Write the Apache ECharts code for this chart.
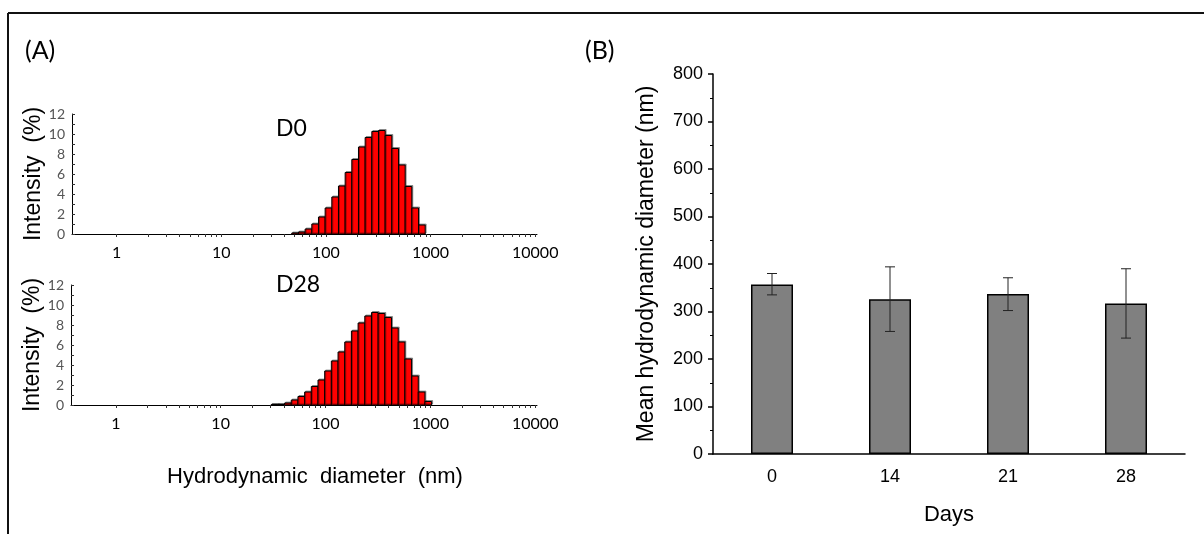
<!DOCTYPE html>
<html>
<head>
<meta charset="utf-8">
<script src="https://cdn.jsdelivr.net/npm/echarts@6/dist/echarts.min.js"></script>
<style>
html,body{margin:0;padding:0;background:#fff;}
#chart{width:1204px;height:534px;}
</style>
</head>
<body>
<div id="chart"></div>
<script>
// ---- Panel A data (size class in nm, intensity %) ----
const sizesD0 = [50.75, 58.77, 68.06, 78.82, 91.28, 105.7, 122.4, 141.8, 164.2, 190.1, 220.2, 255, 295.3, 342, 396.1, 458.7, 531.2, 615.1, 712.4, 825];
const intensityD0 = [0.1, 0.2, 0.5, 1.0, 1.7, 2.6, 3.7, 4.8, 6.15, 7.45, 8.7, 9.65, 10.25, 10.35, 9.85, 8.55, 6.9, 4.75, 2.6, 0.9];
const sizesD28 = [32.67, 37.84, 43.82, 50.75, 58.77, 68.06, 78.82, 91.28, 105.7, 122.4, 141.8, 164.2, 190.1, 220.2, 255, 295.3, 342, 396.1, 458.7, 531.2, 615.1, 712.4, 825, 955.4];
const intensityD28 = [0.05, 0.05, 0.2, 0.5, 0.85, 1.3, 1.85, 2.5, 3.4, 4.4, 5.3, 6.3, 7.4, 8.2, 8.9, 9.25, 9.15, 8.75, 7.7, 6.3, 4.6, 2.9, 1.3, 0.35];
const sizeTickLabels = [1, 10, 100, 1000, 10000];
const panelTitles = ['D0', 'D28'];

// ---- Panel B data ----
const days = ['0', '14', '21', '28'];
const meanDiameter = [357, 326, 337, 317];
const errLow = [335, 258, 302, 244];
const errHigh = [380, 394, 371, 390];

// ---- helpers ----
function histData(sizes, vals) {
  const lx = sizes.map(s => Math.log10(s));
  return lx.map((x, i) => {
    let hw;
    if (i === 0) hw = (lx[1] - lx[0]) / 2;
    else if (i === lx.length - 1) hw = (lx[i] - lx[i - 1]) / 2;
    else hw = (lx[i + 1] - lx[i - 1]) / 4;
    return [x, vals[i], hw];
  });
}
function histRender(params, api) {
  const x = api.value(0), y = api.value(1), hw = api.value(2);
  const tl = api.coord([x - hw, y]);
  const br = api.coord([x + hw, 0]);
  return {
    type: 'rect',
    shape: { x: tl[0], y: tl[1], width: br[0] - tl[0], height: br[1] - tl[1] },
    style: { fill: '#ff0000', stroke: '#000000', lineWidth: 1, shadowColor: 'rgba(0,0,0,0.35)', shadowOffsetX: 1, shadowOffsetY: -1, shadowBlur: 0 }
  };
}
function errRender(params, api) {
  const i = api.value(0);
  const lo = api.coord([i, api.value(1)]);
  const hi = api.coord([i, api.value(2)]);
  const c = 5;
  const st = { stroke: '#222', lineWidth: 1 };
  return {
    type: 'group',
    children: [
      { type: 'line', shape: { x1: lo[0], y1: lo[1], x2: hi[0], y2: hi[1] }, style: st },
      { type: 'line', shape: { x1: lo[0] - c, y1: lo[1], x2: lo[0] + c, y2: lo[1] }, style: st },
      { type: 'line', shape: { x1: hi[0] - c, y1: hi[1], x2: hi[0] + c, y2: hi[1] }, style: st }
    ]
  };
}
const logLabelVals = sizeTickLabels.map(v => Math.log10(v));
const logTickVals = [];
for (let n = 0; n < 4; n++) for (let k = 1; k <= 9; k++) logTickVals.push(Math.log10(k * Math.pow(10, n)));
logTickVals.push(4);

const calibri = 'Lato, "Noto Sans", sans-serif';
const arial = '"Liberation Sans", Arial, sans-serif';

function histX(gi) {
  return {
    type: 'value', gridIndex: gi, min: -0.427, max: 4.017,
    axisLine: { show: true, onZero: false, lineStyle: { color: '#000', width: 1 } },
    axisTick: { show: true, length: 3, customValues: logTickVals, lineStyle: { color: '#333' } },
    axisLabel: { customValues: logLabelVals, formatter: v => String(Math.round(Math.pow(10, v))), color: '#000', fontSize: 16, fontFamily: calibri, margin: 11 },
    splitLine: { show: false }
  };
}
function histY(gi) {
  return {
    type: 'value', gridIndex: gi, min: 0, max: 12, interval: 1,
    name: 'Intensity  (%)', nameLocation: 'middle', nameGap: 25, nameRotate: 90,
    nameTextStyle: { fontSize: 23, fontFamily: arial, color: '#000' },
    axisLine: { show: true, onZero: false, lineStyle: { color: '#000', width: 1 } },
    axisTick: { show: true, inside: true, length: 3, lineStyle: { color: '#333' } },
    axisLabel: { formatter: v => (v % 2 === 0 ? String(v) : ''), color: '#555', fontSize: 14, fontFamily: calibri, margin: 7 },
    splitLine: { show: false }
  };
}

const chart = echarts.init(document.getElementById('chart'), null, { renderer: 'canvas' });
chart.setOption({
  animation: false,
  backgroundColor: '#ffffff',
  title: [
    { text: '(A)', left: 25, top: 38, padding: 0, textStyle: { fontSize: 25, fontWeight: 'normal', fontFamily: calibri, color: '#000' } },
    { text: '(B)', left: 585, top: 38, padding: 0, textStyle: { fontSize: 25, fontWeight: 'normal', fontFamily: calibri, color: '#000' } },
    { text: panelTitles[0], left: 276, top: 117, padding: 0, textStyle: { fontSize: 23, fontWeight: 'normal', fontFamily: calibri, color: '#000' } },
    { text: panelTitles[1], left: 276, top: 273, padding: 0, textStyle: { fontSize: 23, fontWeight: 'normal', fontFamily: calibri, color: '#000' } }
  ],
  graphic: [
    { type: 'line', shape: { x1: 8, y1: 13, x2: 1204, y2: 13 }, style: { stroke: '#111', lineWidth: 2 } },
    { type: 'line', shape: { x1: 8, y1: 13, x2: 8, y2: 534 }, style: { stroke: '#111', lineWidth: 2 } },
    { type: 'text', x: 315, y: 477, style: { text: 'Hydrodynamic  diameter  (nm)', fontSize: 22, fontFamily: arial, fill: '#000', align: 'center', verticalAlign: 'middle' } }
  ],
  grid: [
    { left: 72, top: 114, width: 465, height: 120 },
    { left: 71, top: 285, width: 466, height: 120 },
    { left: 713, top: 74, width: 472, height: 380 }
  ],
  xAxis: [
    histX(0),
    histX(1),
    {
      type: 'category', gridIndex: 2, data: days,
      name: 'Days', nameLocation: 'middle', nameGap: 50,
      nameTextStyle: { fontSize: 22, fontFamily: arial, color: '#000' },
      axisLine: { lineStyle: { color: '#000', width: 1.5 } },
      axisTick: { alignWithLabel: true, length: 5, lineStyle: { color: '#000', width: 1.5 } },
      axisLabel: { fontSize: 18, fontFamily: arial, color: '#000', margin: 14 }
    }
  ],
  yAxis: [
    histY(0),
    histY(1),
    {
      type: 'value', gridIndex: 2, min: 0, max: 800, interval: 100,
      name: 'Mean hydrodynamic diameter (nm)', nameLocation: 'middle', nameGap: 55, nameRotate: 90,
      nameTextStyle: { fontSize: 23, fontFamily: arial, color: '#000' },
      axisLine: { show: true, lineStyle: { color: '#000', width: 1.5 } },
      axisTick: { show: true, length: 5, lineStyle: { color: '#000', width: 1.5 } },
      minorTick: { show: true, splitNumber: 2, length: 3, lineStyle: { color: '#000', width: 1 } },
      axisLabel: { fontSize: 18, fontFamily: arial, color: '#000', margin: 10 },
      splitLine: { show: false }
    }
  ],
  series: [
    { type: 'custom', xAxisIndex: 0, yAxisIndex: 0, data: histData(sizesD0, intensityD0), renderItem: histRender, encode: { x: 0, y: 1 } },
    { type: 'custom', xAxisIndex: 1, yAxisIndex: 1, data: histData(sizesD28, intensityD28), renderItem: histRender, encode: { x: 0, y: 1 } },
    {
      type: 'bar', xAxisIndex: 2, yAxisIndex: 2, data: meanDiameter, barWidth: 42,
      itemStyle: { color: '#808080', borderColor: '#000', borderWidth: 1.5 }
    },
    {
      type: 'custom', xAxisIndex: 2, yAxisIndex: 2, z: 5,
      data: days.map((d, i) => [i, errLow[i], errHigh[i]]),
      renderItem: errRender, encode: { x: 0, y: [1, 2] }
    }
  ]
});
</script>
</body>
</html>
